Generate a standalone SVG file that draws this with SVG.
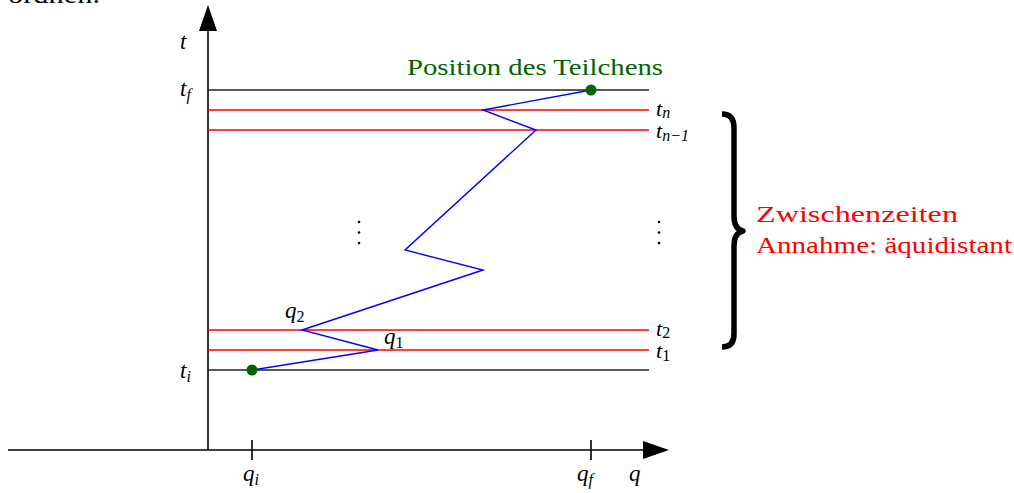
<svg xmlns="http://www.w3.org/2000/svg" width="1014" height="493" viewBox="0 0 1014 493" font-family="'Liberation Serif', 'DejaVu Serif', serif">
<style>
.m{font-style:italic;font-size:23px;fill:#000;}
.r{font-style:italic;font-size:22px;fill:#000;}
.s{font-size:16px;}
.ax{stroke:#000;stroke-width:1.6;fill:none;}
.blk{stroke:#222;stroke-width:1.4;}
.red{stroke:#ff0000;stroke-width:1.4;}
.dot{fill:#006400;}
</style>
<text x="8" y="3" font-size="26" font-family="Liberation Serif, serif" textLength="92" lengthAdjust="spacingAndGlyphs">ordnen.</text>
<g id="axes">
<line class="ax" x1="208" y1="450" x2="208" y2="26"/>
<polygon points="208,5 199,31 217,31" fill="#000"/>
<line class="ax" x1="8" y1="450" x2="648" y2="450"/>
<polygon points="669,450 643,441 643,459" fill="#000"/>
<line class="ax" x1="252" y1="440" x2="252" y2="460"/>
<line class="ax" x1="591" y1="440" x2="591" y2="460"/>
<text class="m" x="180" y="49" font-family="Liberation Serif, serif">t</text>
<text class="m" x="629" y="481" font-family="Liberation Serif, serif">q</text>
<text class="m" x="243" y="481" font-family="Liberation Serif, serif">q<tspan class="s" dy="4">i</tspan></text>
<text class="m" x="577" y="481" font-family="Liberation Serif, serif">q<tspan class="s" dy="4">f</tspan></text>
</g>
<g id="timelines" font-family="Liberation Serif, serif">
<line class="blk" x1="208" y1="90" x2="649" y2="90"/>
<line class="red" x1="208" y1="110" x2="649" y2="110"/>
<line class="red" x1="208" y1="130" x2="649" y2="130"/>
<line class="red" x1="208" y1="330" x2="649" y2="330"/>
<line class="red" x1="208" y1="350" x2="649" y2="350"/>
<line class="blk" x1="208" y1="370" x2="649" y2="370"/>
<text class="m" x="180" y="96">t<tspan class="s" dy="4">f</tspan></text>
<text class="m" x="180" y="378">t<tspan class="s" dy="4">i</tspan></text>
<text class="r" x="656" y="116">t<tspan class="s" dy="2">n</tspan></text>
<text class="r" x="656" y="138">t<tspan class="s" dy="3">n−1</tspan></text>
<text class="r" x="656" y="336">t<tspan class="s" dy="2" font-style="normal">2</tspan></text>
<text class="r" x="656" y="358">t<tspan class="s" dy="3" font-style="normal">1</tspan></text>
</g>
<g id="path" font-family="Liberation Serif, serif">
<polyline points="252,370 378,350 302,330 483,270 405,250 536,130 483,110 591,90" fill="none" stroke="#0000ff" stroke-width="1.4"/>
<text class="m" x="285" y="318">q<tspan class="s" dy="4" font-style="normal">2</tspan></text>
<text class="m" x="384" y="344">q<tspan class="s" dy="4" font-style="normal">1</tspan></text>
</g>
<g id="endpoints">
<circle class="dot" cx="591" cy="90" r="5.5"/>
<circle class="dot" cx="252" cy="370" r="5.5"/>
<text x="407" y="75" font-size="24" fill="#006400" font-family="Liberation Serif, serif" textLength="256" lengthAdjust="spacingAndGlyphs">Position des Teilchens</text>
</g>
<g id="vdots" fill="#000">
<circle cx="359" cy="222" r="1.3"/><circle cx="359" cy="232.5" r="1.3"/><circle cx="359" cy="243" r="1.3"/>
<circle cx="659" cy="222" r="1.3"/><circle cx="659" cy="232.5" r="1.3"/><circle cx="659" cy="243" r="1.3"/>
</g>
<g id="brace">
<path d="M722,114 Q734,114 734,128 L734,216 Q734,229 743,231 Q734,233 734,246 L734,334 Q734,347 722,347" fill="none" stroke="#000" stroke-width="5.5" stroke-linejoin="round"/>
<text x="756" y="222" font-size="24" fill="#ff0000" font-family="Liberation Serif, serif" textLength="202" lengthAdjust="spacingAndGlyphs">Zwischenzeiten</text>
<text x="756" y="253" font-size="24" fill="#ff0000" font-family="Liberation Serif, serif" textLength="256" lengthAdjust="spacingAndGlyphs">Annahme: äquidistant</text>
</g>
</svg>
